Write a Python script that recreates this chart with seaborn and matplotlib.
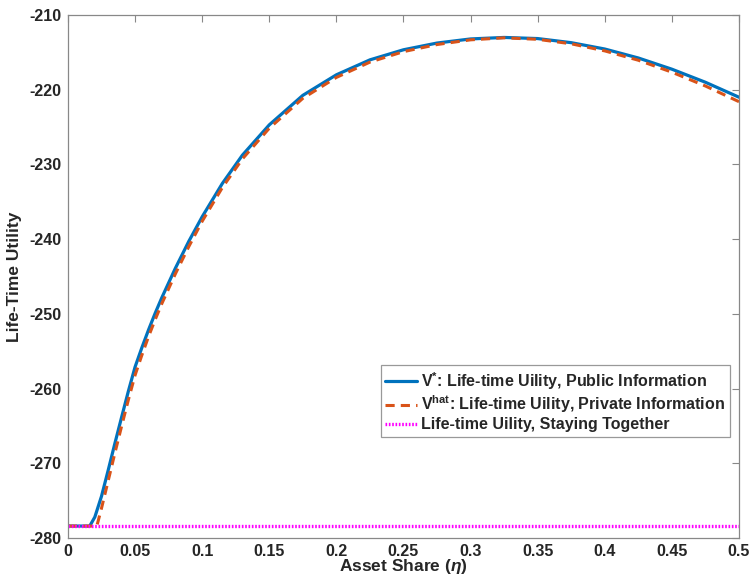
import numpy as np
import pandas as pd
import matplotlib
matplotlib.use("Agg")
import matplotlib.pyplot as plt
import seaborn as sns

# Asset share grid and life-time utility values
eta_public = [0.0, 0.0162, 0.020, 0.025, 0.030, 0.035, 0.040, 0.045, 0.050, 0.055, 0.060,
              0.065, 0.070, 0.080, 0.090, 0.100, 0.115, 0.130, 0.150, 0.175, 0.200, 0.225,
              0.250, 0.275, 0.300, 0.325, 0.350, 0.375, 0.400, 0.425, 0.450, 0.475, 0.500]
v_public = [-278.4, -278.4, -277.2, -274.4, -270.9, -267.3, -263.8, -260.35, -257.1, -254.55, -252.15,
            -249.9, -247.8, -243.9, -240.3, -237.0, -232.55, -228.75, -224.7, -220.75, -218.0, -216.0,
            -214.65, -213.75, -213.2, -213.0, -213.15, -213.7, -214.55, -215.75, -217.25, -219.0, -221.0]

eta_private = [0.0, 0.0215, 0.025, 0.030, 0.035, 0.040, 0.045, 0.050, 0.055, 0.060,
               0.065, 0.070, 0.080, 0.090, 0.100, 0.115, 0.130, 0.150, 0.175, 0.200, 0.225,
               0.250, 0.275, 0.300, 0.325, 0.350, 0.375, 0.400, 0.425, 0.450, 0.475, 0.500]
v_private = [-278.4, -278.4, -276.0, -272.3, -268.6, -265.0, -261.5, -258.2, -255.55, -253.05,
             -250.75, -248.6, -244.65, -241.0, -237.6, -233.1, -229.25, -225.15, -221.15, -218.35, -216.3,
             -214.9, -213.95, -213.32, -213.05, -213.25, -213.85, -214.8, -216.05, -217.65, -219.5, -221.6]

eta_together = [0.0, 0.5]
v_together = [-278.4, -278.4]

labels = [r"V$^{*}$: Life-time Uility, Public Information",
          r"V$^{hat}$: Life-time Uility, Private Information",
          "Life-time Uility, Staying Together"]
colors = ["#0072BD", "#D95319", "#FF00FF"]

sns.set_theme(style="white")
plt.rcParams["font.family"] = ["Liberation Sans", "DejaVu Sans"]
plt.rcParams["font.weight"] = "bold"
plt.rcParams["axes.unicode_minus"] = False
plt.rcParams["mathtext.fontset"] = "custom"
plt.rcParams["mathtext.rm"] = "Liberation Sans:bold"
plt.rcParams["mathtext.bf"] = "Liberation Sans:bold"
plt.rcParams["mathtext.it"] = "Liberation Sans:italic"
plt.rcParams["mathtext.default"] = "bf"

fig = plt.figure(figsize=(7.52, 5.78), dpi=100)
ax = fig.add_axes([0.0904, 0.0692, 0.8923, 0.9048])

df_pub = pd.DataFrame({"eta": eta_public, "v": v_public})
df_priv = pd.DataFrame({"eta": eta_private, "v": v_private})
df_tog = pd.DataFrame({"eta": eta_together, "v": v_together})

sns.lineplot(data=df_pub, x="eta", y="v", ax=ax, color=colors[0], linewidth=2.3,
             label=labels[0], estimator=None, sort=False)
sns.lineplot(data=df_priv, x="eta", y="v", ax=ax, color=colors[1], linewidth=2.2,
             linestyle=(0, (3, 2)), label=labels[1], estimator=None, sort=False)
sns.lineplot(data=df_tog, x="eta", y="v", ax=ax, color=colors[2], linewidth=2.4,
             linestyle=(0, (0.5, 0.5)), label=labels[2], estimator=None, sort=False)

ax.set_xlim(0, 0.5)
ax.set_ylim(-280, -210)
ax.set_xticks(np.arange(0, 0.501, 0.05))
ax.set_xticklabels(["0", "0.05", "0.1", "0.15", "0.2", "0.25", "0.3", "0.35", "0.4", "0.45", "0.5"])
ax.set_yticks(np.arange(-280, -209, 10))
ax.tick_params(direction="in", length=5, width=0.8, color="#888888",
               top=True, right=True, labelsize=11.5, labelcolor="#262626", pad=5)
ax.tick_params(axis="x", pad=4)
for lab in ax.get_xticklabels() + ax.get_yticklabels():
    lab.set_fontweight("bold")
for sp in ax.spines.values():
    sp.set_color("#888888")
    sp.set_linewidth(0.9)

ax.set_xlabel(r"Asset Share ($\mathit{\eta}$)", fontsize=12.5, fontweight="bold", labelpad=-1)
ax.set_ylabel("Life-Time Utility", fontsize=12.5, fontweight="bold", labelpad=5)

leg = ax.legend(loc="lower right", bbox_to_anchor=(0.9866, 0.193), fontsize=11.5,
                frameon=True, fancybox=False, edgecolor="#999999", framealpha=1,
                handlelength=2.0, handletextpad=0.25, borderpad=0.3, labelspacing=0.12,
                borderaxespad=0)
leg.get_frame().set_linewidth(0.9)
for t in leg.get_texts():
    t.set_fontweight("bold")

fig.savefig("out.png", dpi=100)
